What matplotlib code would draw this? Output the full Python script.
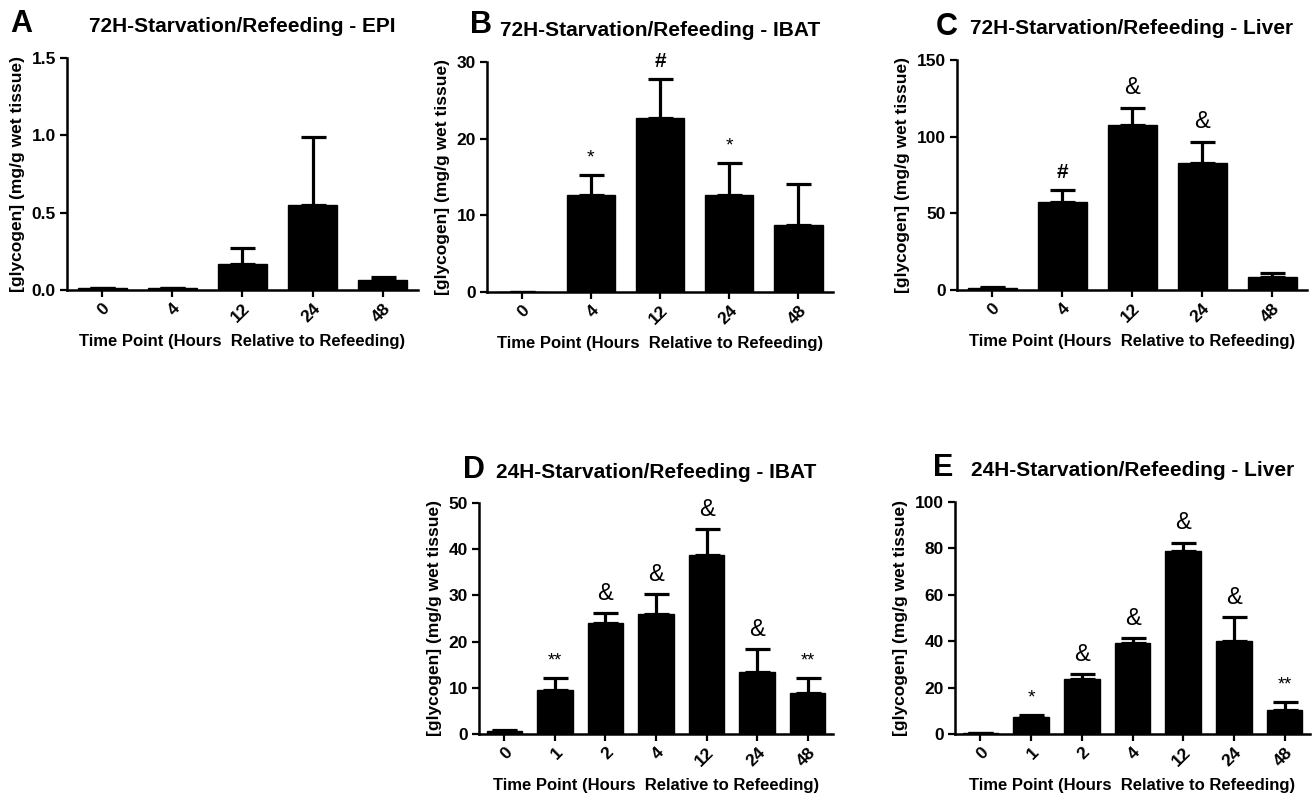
import numpy as np
import matplotlib
matplotlib.use('Agg')
import matplotlib.pyplot as plt

plt.rcParams['font.family'] = ['Liberation Sans', 'DejaVu Sans']

# data (mean, upper error)
hours_72 = ['0', '4', '12', '24', '48']
hours_24 = ['0', '1', '2', '4', '12', '24', '48']

epi72_mean = [0.01, 0.01, 0.17, 0.55, 0.065]
epi72_err = [0.005, 0.003, 0.10, 0.44, 0.02]

ibat72_mean = [0.0, 12.6, 22.7, 12.7, 8.8]
ibat72_err = [0.0, 2.7, 5.1, 4.1, 5.3]
ibat72_sig = ['', '*', '#', '*', '']

liver72_mean = [1.5, 57.2, 107.6, 83.0, 8.7]
liver72_err = [0.5, 8.0, 11.3, 13.7, 2.6]
liver72_sig = ['', '#', '&', '&', '']

ibat24_mean = [0.6, 9.6, 24.0, 26.0, 38.7, 13.4, 8.8]
ibat24_err = [0.2, 2.6, 2.1, 4.3, 5.6, 4.9, 3.4]
ibat24_sig = ['', '**', '&', '&', '&', '&', '**']

liver24_mean = [0.4, 7.5, 23.8, 39.1, 78.9, 40.3, 10.2]
liver24_err = [0.2, 0.7, 2.0, 2.2, 3.5, 10.1, 3.8]
liver24_sig = ['', '*', '&', '&', '&', '&', '**']

W, H = 1315, 795
fig = plt.figure(figsize=(W / 100, H / 100), dpi=100)


def panel(box, labels, mean, err, ymax, ystep, title, sig=None, yfmt='{:.0f}'):
    l, t, r, b = box
    ax = fig.add_axes([l / W, 1 - b / H, (r - l) / W, (b - t) / H])
    x = np.arange(len(labels))
    ax.bar(x, mean, width=0.7, color='black', edgecolor='black', zorder=2)
    ax.errorbar(x, mean, yerr=[np.zeros(len(err)), err], fmt='none', ecolor='black',
                elinewidth=2.3, capsize=9, capthick=2.3, zorder=1)
    ax.set_xlim(-0.5, len(labels) - 0.5)
    ax.set_ylim(0, ymax)
    yt = np.arange(0, ymax + ystep / 2, ystep)
    ax.set_yticks(yt)
    ax.set_yticklabels([yfmt.format(v) for v in yt], fontweight='bold', fontsize=12.5)
    ax.set_xticks(x)
    ax.set_xticklabels(labels, rotation=45, ha='right', rotation_mode='anchor',
                       fontweight='bold', fontsize=12.5)
    ax.tick_params(direction='out', length=5, width=1.6, pad=3)
    for s in ['top', 'right']:
        ax.spines[s].set_visible(False)
    for s in ['left', 'bottom']:
        ax.spines[s].set_linewidth(1.8)
    ax.set_ylabel('[glycogen] (mg/g wet tissue)', fontweight='bold', fontsize=12.5, labelpad=5)
    ax.set_xlabel('Time Point (Hours  Relative to Refeeding)', fontweight='bold',
                  fontsize=12, labelpad=6)
    if sig is not None:
        for xi, m, e, s in zip(x, mean, err, sig):
            if not s:
                continue
            size = {'&': 17, '#': 15, '*': 14, '**': 13}[s]
            weight = 'bold' if s == '#' else 'normal'
            ax.annotate(s, (xi, m + e), xytext=(0, 6), textcoords='offset points',
                        ha='center', va='bottom', fontsize=size, fontweight=weight,
                        annotation_clip=False)
    cx = (l + r) / 2
    fig.text(cx / W, 1 - (t - 31) / H, title, ha='center', va='center',
             fontsize=15, fontweight='bold')
    return ax


panel((67, 58, 418, 290), hours_72, epi72_mean, epi72_err, 1.5, 0.5,
      '72H-Starvation/Refeeding - EPI', yfmt='{:.1f}')
panel((487, 62, 833, 292), hours_72, ibat72_mean, ibat72_err, 30, 10,
      '72H-Starvation/Refeeding - IBAT', ibat72_sig)
panel((957, 60, 1307, 290), hours_72, liver72_mean, liver72_err, 150, 50,
      '72H-Starvation/Refeeding - Liver', liver72_sig)
panel((479, 503, 833, 734), hours_24, ibat24_mean, ibat24_err, 50, 10,
      '24H-Starvation/Refeeding - IBAT', ibat24_sig)
panel((955, 502, 1310, 734), hours_24, liver24_mean, liver24_err, 100, 20,
      '24H-Starvation/Refeeding - Liver', liver24_sig)

# panel letters
for letter, (px, py) in zip('ABCDE', [(10, 24), (470, 25), (936, 27), (463, 470), (933, 468)]):
    fig.text(px / W, 1 - py / H, letter, ha='left', va='center', fontsize=22, fontweight='bold')

fig.savefig('out.png', dpi=100)
